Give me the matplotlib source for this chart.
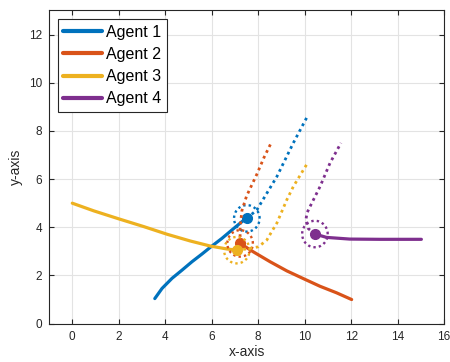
import numpy as np
import matplotlib
matplotlib.use("Agg")
import matplotlib.pyplot as plt

plt.rcParams['font.family'] = ['Liberation Sans', 'DejaVu Sans']

labels = ["Agent 1", "Agent 2", "Agent 3", "Agent 4"]
colors = ["#0072BD", "#D95319", "#EDB120", "#7E2F8E"]

# past trajectories (solid)
a1_x = [3.55, 3.86, 4.29, 4.72, 5.15, 5.58, 5.94, 6.44, 6.87, 7.36, 7.51]
a1_y = [1.04, 1.46, 1.88, 2.22, 2.57, 2.89, 3.17, 3.54, 3.89, 4.28, 4.37]
a2_x = [12.02, 11.37, 10.66, 9.94, 9.23, 8.51, 7.79, 7.22]
a2_y = [1.0, 1.28, 1.55, 1.87, 2.19, 2.57, 2.98, 3.33]
a3_x = [0.0, 0.93, 2.0, 3.07, 4.08, 5.08, 5.94, 6.65, 7.08]
a3_y = [5.0, 4.68, 4.35, 4.03, 3.71, 3.43, 3.22, 3.1, 3.05]
a4_x = [15.02, 13.23, 11.94, 10.94, 10.44]
a4_y = [3.5, 3.5, 3.51, 3.58, 3.72]

# predicted trajectories (dotted)
p1_x = [7.51, 7.94, 8.3, 8.8, 9.51, 10.08]
p1_y = [4.37, 4.72, 5.3, 6.1, 7.5, 8.54]
p2_x = [7.22, 7.22, 7.3, 7.5, 7.94, 8.25, 8.58]
p2_y = [3.33, 4.0, 4.7, 5.3, 6.2, 6.9, 7.55]
p3_x = [7.08, 7.5, 8.01, 8.37, 8.58, 8.8, 9.23, 9.51, 10.08]
p3_y = [3.05, 3.1, 3.19, 3.47, 3.82, 4.17, 5.14, 5.69, 6.6]
p4_x = [10.44, 10.15, 10.05, 10.1, 10.23, 10.66, 11.09, 11.56]
p4_y = [3.72, 3.95, 4.3, 4.6, 4.86, 5.69, 6.67, 7.5]

radius = 0.55

xticks = [0, 2, 4, 6, 8, 10, 12, 14, 16]
yticks = [0, 2, 4, 6, 8, 10, 12]

fig = plt.figure(figsize=(4.5, 3.62), dpi=100)
ax = fig.add_axes([0.109, 0.106, 0.878, 0.865])

past = [(a1_x, a1_y), (a2_x, a2_y), (a3_x, a3_y), (a4_x, a4_y)]
pred = [(p1_x, p1_y), (p2_x, p2_y), (p3_x, p3_y), (p4_x, p4_y)]

handles = []
th = np.linspace(0, 2 * np.pi, 200)
for (px, py), c, lab in zip(past, colors, labels):
    h, = ax.plot(px, py, '-', color=c, lw=2.3, label=lab,
                 solid_capstyle='round', solid_joinstyle='round')
    handles.append(h)
for (px, py), (qx, qy), c in zip(past, pred, colors):
    ax.plot(qx, qy, linestyle=(0, (1, 1.3)), color=c, lw=2.0)
    cx, cy = px[-1], py[-1]
    ax.plot(cx + radius * np.cos(th), cy + radius * np.sin(th),
            linestyle=(0, (1, 1.3)), color=c, lw=1.7)
    ax.plot([cx], [cy], 'o', color=c, ms=7)

ax.set_xlim(-1, 16)
ax.set_ylim(0, 13)
ax.set_xticks(xticks)
ax.set_yticks(yticks)
ax.grid(True, color='#e3e3e3', lw=0.8)
ax.set_axisbelow(True)
ax.tick_params(direction='in', length=3.5, width=0.8, colors='#262626',
               labelsize=8.5, top=True, right=True, pad=5)
for s in ax.spines.values():
    s.set_color('#262626')
    s.set_linewidth(0.8)
ax.set_xlabel('x-axis', fontsize=10, color='#262626', labelpad=2)
ax.set_ylabel('y-axis', fontsize=10, color='#262626', labelpad=4)

leg = ax.legend(handles=handles, loc='upper left', fontsize=11.5, frameon=True,
                fancybox=False, edgecolor='#262626', framealpha=1,
                handlelength=2.4, handletextpad=0.25, borderaxespad=0.55,
                labelspacing=0.45, borderpad=0.35)
leg.get_frame().set_linewidth(0.8)
for l in leg.get_lines():
    l.set_linewidth(3)

fig.savefig('out.png', dpi=100)
